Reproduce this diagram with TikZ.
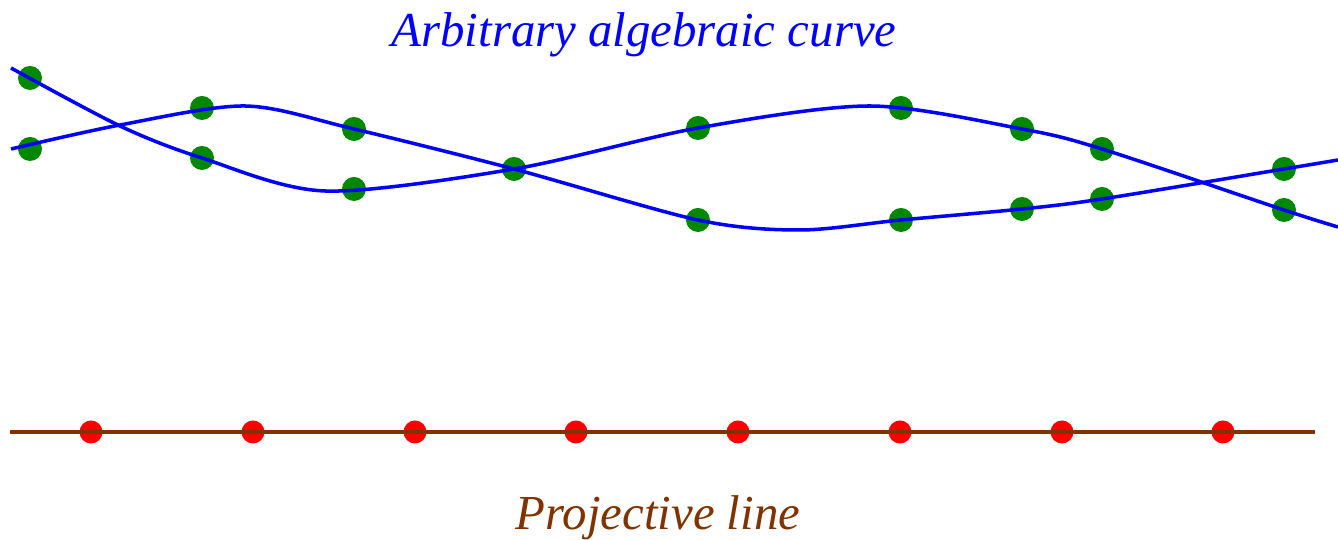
\documentclass[tikz,border=0pt]{standalone}
\usepackage{fontspec}
\setmainfont{Liberation Serif}
\usetikzlibrary{positioning}
\definecolor{ptgreen}{RGB}{0,136,0}
\definecolor{linebrown}{RGB}{128,51,0}
\tikzset{
  ptc/.style={circle, fill=ptgreen, inner sep=0pt, minimum size=0.24cm},
  ptl/.style={circle, fill=red, inner sep=0pt, minimum size=0.23cm},
  curv/.style={blue, line width=1pt},
  lbl/.style={font=\fontsize{13.9}{16}\selectfont\itshape, anchor=base}
}

\begin{document}
\begin{tikzpicture}
\useasboundingbox (0,0) rectangle (13.38,5.40);
% points on the curve
\node (a1) at (0.30,4.62) [ptc] {};
\node (a2) at (2.02,3.82) [ptc] {};
\node (a3) at (3.54,3.51) [ptc] {};
\node (ab) at (5.14,3.71) [ptc] {};
\node (a4) at (6.98,4.12) [ptc] {};
\node (a5) at (9.01,4.32) [ptc] {};
\node (a6) at (10.22,4.11) [ptc] {};
\node (a7) at (11.02,3.91) [ptc] {};
\node (a8) at (12.84,3.30) [ptc] {};
\node (b1) at (0.30,3.91) [ptc] {};
\node (b2) at (2.02,4.32) [ptc] {};
\node (b3) at (3.54,4.11) [ptc] {};
\node (b4) at (6.98,3.20) [ptc] {};
\node (b5) at (9.01,3.20) [ptc] {};
\node (b6) at (10.22,3.31) [ptc] {};
\node (b7) at (11.02,3.41) [ptc] {};
\node (b8) at (12.84,3.71) [ptc] {};
% the two branches
\draw [curv] plot [smooth] coordinates {(0.11,4.72) (1.20,4.14) (2.02,3.82) (3.25,3.49) (5.14,3.71) (6.98,4.12) (8.70,4.34) (10.22,4.11) (11.02,3.91) (12.84,3.30) (13.38,3.13)};
\draw [curv] plot [smooth] coordinates {(0.11,3.91) (1.20,4.15) (2.45,4.34) (3.54,4.11) (5.14,3.71) (6.98,3.20) (8.00,3.10) (9.01,3.20) (10.22,3.31) (11.02,3.41) (12.84,3.71) (13.38,3.80)};
% points on the line
\node (p1) at (0.91,1.08) [ptl] {};
\node (p2) at (2.53,1.08) [ptl] {};
\node (p3) at (4.15,1.08) [ptl] {};
\node (p4) at (5.76,1.08) [ptl] {};
\node (p5) at (7.38,1.08) [ptl] {};
\node (p6) at (9.00,1.08) [ptl] {};
\node (p7) at (10.62,1.08) [ptl] {};
\node (p8) at (12.23,1.08) [ptl] {};
\coordinate (pl) at (0.10,1.08);
\coordinate (pr) at (13.15,1.08);
\draw [linebrown, line width=1.2pt] (pl) -- (pr);
% labels
\node (curvelbl) at (6.44,4.93) [lbl, text=blue] {Arbitrary algebraic curve};
\node (linelbl) at (6.58,0.10) [lbl, text=linebrown] {Projective line};
\end{tikzpicture}
\end{document}
